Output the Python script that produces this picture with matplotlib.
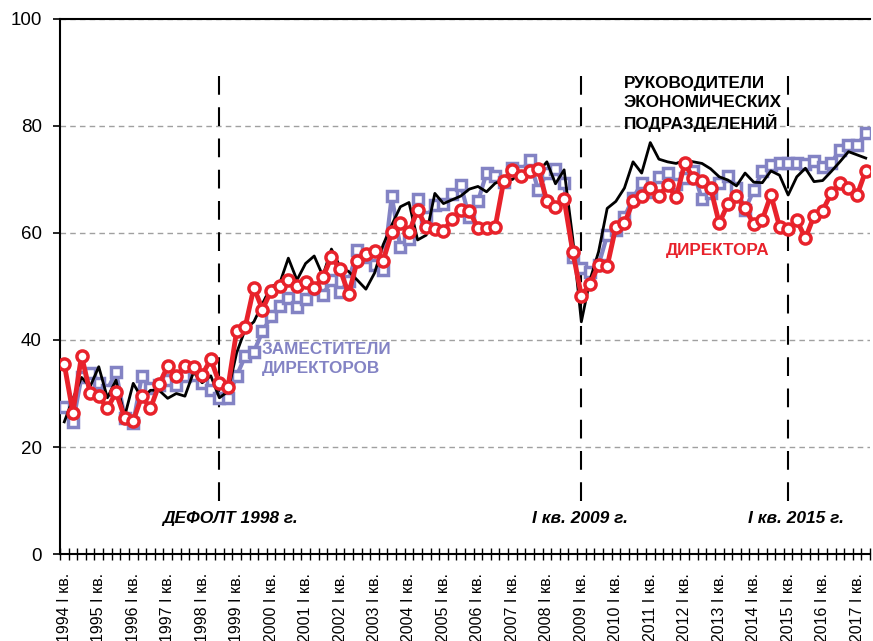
import numpy as np
import matplotlib
matplotlib.use("Agg")
import matplotlib.pyplot as plt

# ============================================================
# ДАННЫЕ (поквартально, 1994 I кв. - 2017 II кв.)
# ============================================================

first_year = 1994
last_year = 2017

# Директора
direktora = [
    35.5, 26.4, 37.1, 30.1, 29.5, 27.2, 30.2, 25.5, 24.9, 29.5,
    27.2, 31.7, 35.1, 33.3, 35.1, 35.0, 33.5, 36.4, 31.9, 31.2,
    41.7, 42.5, 49.8, 45.7, 49.2, 50.1, 51.2, 50.0, 50.9, 49.7,
    51.7, 55.5, 53.2, 48.6, 54.8, 56.1, 56.7, 54.8, 60.1, 61.8,
    60.1, 64.3, 61.1, 60.7, 60.4, 62.6, 64.3, 64.2, 60.9, 60.9,
    61.1, 69.8, 71.8, 70.7, 71.6, 71.9, 66.0, 64.9, 66.3, 56.5,
    48.3, 50.4, 54.0, 53.8, 61.1, 61.8, 65.9, 66.9, 68.5, 66.9,
    69.0, 66.7, 73.0, 70.2, 69.8, 68.4, 61.8, 65.4, 66.9, 64.7,
    61.6, 62.5, 67.1, 61.2, 60.7, 62.4, 59.0, 63.2, 64.2, 67.4,
    69.4, 68.5, 67.1, 71.6,
]

# Заместители директоров
zamestiteli = [
    27.4, 24.6, 33.1, 33.8, 32.0, 30.6, 34.1, 25.5, 24.5, 33.3,
    31.0, 31.5, 32.5, 31.6, 33.3, 33.5, 32.0, 30.6, 29.2, 29.2,
    33.3, 37.0, 37.8, 41.6, 44.4, 46.4, 47.8, 46.2, 47.6, 49.5,
    48.4, 51.2, 49.0, 51.0, 56.8, 55.5, 54.0, 53.0, 66.9, 57.3,
    58.8, 66.3, 62.9, 65.2, 65.5, 67.3, 69.0, 62.9, 65.9, 71.2,
    70.7, 69.5, 72.1, 71.5, 73.6, 68.0, 71.3, 71.9, 69.4, 55.6,
    53.5, 52.8, 54.0, 59.6, 60.6, 63.0, 66.5, 69.3, 67.7, 70.5,
    71.2, 69.2, 70.2, 71.5, 66.3, 67.5, 69.3, 70.6, 68.5, 64.3,
    68.0, 71.5, 72.7, 73.1, 73.1, 73.1, 72.9, 73.5, 72.4, 73.0,
    75.6, 76.4, 76.4, 78.6,
]

# Руководители экономических подразделений
rukovoditeli = [
    24.7, 29.0, 33.0, 31.3, 35.0, 29.2, 32.5, 25.7, 31.9, 29.1,
    30.6, 30.6, 29.1, 30.0, 29.5, 34.0, 32.0, 33.3, 29.2, 30.4,
    37.6, 42.0, 43.4, 46.8, 50.0, 50.6, 55.3, 51.2, 54.3, 55.7,
    52.0, 57.0, 53.7, 52.8, 51.2, 49.5, 52.5, 57.8, 61.5, 64.9,
    65.7, 58.7, 59.6, 67.4, 65.5, 66.2, 66.9, 68.2, 68.7, 67.7,
    69.3, 69.9, 70.0, 71.4, 70.5, 71.4, 73.3, 69.2, 71.8, 59.0,
    43.4, 51.2, 56.5, 64.6, 65.9, 68.4, 73.3, 71.2, 76.9, 73.8,
    73.3, 73.0, 73.6, 73.3, 73.0, 72.0, 70.5, 69.9, 68.8, 71.2,
    69.5, 69.4, 71.6, 70.8, 67.1, 70.5, 72.1, 69.6, 69.8, 71.5,
    73.3, 75.2, 74.6, 74.0,
]

# Кварталы-события (номер квартала от 1994 I кв.)
sobytiya = [18, 60, 84]
sobytiya_text = ["ДЕФОЛТ 1998 г.", "I кв. 2009 г.", "I кв. 2015 г."]

# ============================================================
# ГРАФИК
# ============================================================

red = "#E8222B"
lav = "#8383C4"
sans = ["Liberation Sans", "DejaVu Sans"]

x = np.arange(len(direktora))

fig = plt.figure(figsize=(8.73, 6.41), dpi=100)
ax = fig.add_axes([0.0687, 0.1357, 0.9279, 0.8347])

ax.plot(x, zamestiteli, color=lav, lw=3, marker="s", ms=7,
        mfc="white", mec=lav, mew=2.5, zorder=3)
ax.plot(x, rukovoditeli, color="black", lw=2, zorder=4)
ax.plot(x, direktora, color=red, lw=3.5, marker="o", ms=8,
        mfc="white", mec=red, mew=2.5, zorder=5)

# Вертикальные пунктирные линии и подписи событий
sdvig = [1.2, -0.2, 0.9]   # небольшой сдвиг подписей относительно линии
for q, t, d in zip(sobytiya, sobytiya_text, sdvig):
    ax.plot([q, q], [10, 90], color="black", lw=1.5,
            dashes=(9, 6), zorder=2)
    ax.text(q + d, 6.7, t, ha="center", va="center", fontsize=12.5,
            fontweight="bold", fontstyle="italic", family=sans)

# Подписи рядов
ax.text(64.9, 89.3, "РУКОВОДИТЕЛИ\nЭКОНОМИЧЕСКИХ\nПОДРАЗДЕЛЕНИЙ",
        ha="left", va="top", fontsize=12.3, fontweight="bold",
        family=sans, linespacing=1.3, zorder=6)
ax.text(69.8, 56.8, "ДИРЕКТОРА", ha="left", va="center", fontsize=12.3,
        fontweight="bold", color=red, family=sans, zorder=6)
ax.text(22.9, 39.6, "ЗАМЕСТИТЕЛИ\nДИРЕКТОРОВ", ha="left", va="top",
        fontsize=12.3, fontweight="bold", color=lav, family=sans,
        linespacing=1.3, zorder=6)

# Оси
ax.set_xlim(-0.5, len(direktora) - 0.5)
ax.set_ylim(0, 100)
ax.set_yticks(range(0, 101, 20))
ax.tick_params(axis="y", labelsize=13.5, direction="out", length=5,
               width=1.2, pad=8)
for lab in ax.get_yticklabels():
    lab.set_family(sans)

# Метки годов по центрам, штрихи - на границах кварталов
years = list(range(first_year, last_year + 1))
ax.set_xticks([4 * i for i in range(len(years))])
ax.set_xticklabels([f"{y} I кв." for y in years], rotation=90,
                   fontsize=11.5, family=sans)
ax.tick_params(axis="x", which="major", length=0, pad=13.5)
ax.set_xticks(np.arange(-0.5, len(direktora), 1), minor=True)
ax.tick_params(axis="x", which="minor", direction="inout", length=8, width=1)

ax.yaxis.grid(True, color="#A0A0A0", linestyle=(0, (4, 3)), lw=1)
ax.set_axisbelow(True)
for s in ax.spines.values():
    s.set_linewidth(1.5)
ax.spines["right"].set_visible(False)

fig.savefig("out.png", dpi=100)
